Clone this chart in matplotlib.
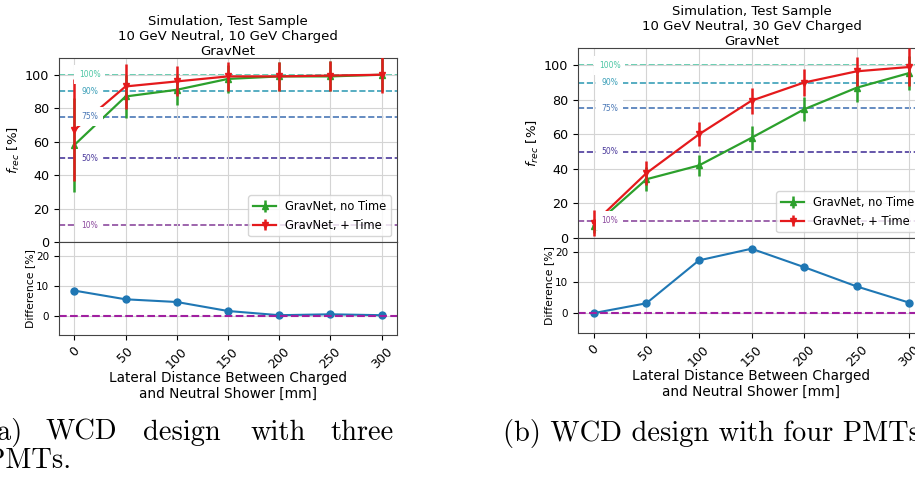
import matplotlib.pyplot as plt

distance = [0, 50, 100, 150, 200, 250, 300]

# (a) three PMTs, 10 GeV neutral / 10 GeV charged
a_notime = [58, 87, 91, 97.5, 99, 99, 100]
a_notime_err = [28, 13, 9, 8.5, 8.5, 9, 10]
a_time = [67, 93, 96, 99, 99, 99.5, 100]
a_time_err = [30.5, 13.5, 9, 8.5, 8.5, 9, 11]
a_diff = [8.3, 5.4, 4.5, 1.5, 0.1, 0.4, 0.1]

# (b) four PMTs, 10 GeV neutral / 30 GeV charged
b_notime = [7, 34, 42, 58, 74.5, 87, 95.5]
b_notime_err = [4, 7, 6, 7, 7, 8, 10]
b_time = [8.5, 37.5, 60, 79.5, 90, 96.5, 99]
b_time_err = [7.5, 7, 7, 7.5, 8, 8.5, 11]
b_diff = [0, 3.2, 17.2, 21, 15, 8.7, 3.4]

levels = [100, 90, 75, 50, 10]
level_labels = ["100%", "90%", "75%", "50%", "10%"]
level_colors = ["#4cc6a4", "#3a9fb8", "#4a78b6", "#4b3a9c", "#8c4a9e"]

W, H = 915, 483


def frac(x0, y0, x1, y1):
    # pixel box -> figure fraction rect
    return [x0 / W, 1 - y1 / H, (x1 - x0) / W, (y1 - y0) / H]


def panel(fig, top_px, bot_px, title, notime, notime_err, withtime, withtime_err, diff):
    ax = fig.add_axes(frac(*top_px))
    axd = fig.add_axes(frac(*bot_px), sharex=ax)

    for lv, lab, col in zip(levels, level_labels, level_colors):
        ax.axhline(lv, color=col, ls="--", lw=1.2, zorder=1.5)
        ax.text(15, lv, lab, color=col, fontsize=5.5, ha="center", va="center", zorder=10,
                bbox=dict(facecolor="white", edgecolor="none", pad=3.5))

    ax.errorbar(distance, notime, yerr=notime_err, color="#2ca02c", marker="^", ms=4.5,
                lw=1.6, elinewidth=1.8, capsize=0, label="GravNet, no Time", zorder=3)
    ax.errorbar(distance, withtime, yerr=withtime_err, color="#e41a1c", marker="v", ms=4.5,
                lw=1.6, elinewidth=1.8, capsize=0, label="GravNet, + Time", zorder=4)

    ax.set_xlim(-15, 315)
    ax.set_ylim(0, 110)
    ax.set_yticks([0, 20, 40, 60, 80, 100])
    ax.set_xticks(distance)
    ax.tick_params(labelbottom=False, labelsize=9.2)
    ax.grid(True, color="#d4d4d4", lw=0.8)
    ax.set_ylabel("$f_{rec}$ [%]", fontsize=9.5, labelpad=2)
    ax.set_title(title, fontsize=9.5, pad=2)
    leg = ax.legend(loc="lower right", fontsize=8.3, framealpha=0.8)
    leg.set_zorder(20)

    axd.plot(distance, diff, "o-", color="#1f77b4", ms=5, lw=1.5)
    axd.axhline(0, color="#a020a0", ls="--", lw=1.5)
    axd.set_ylim(-6.5, 24.5)
    axd.set_yticks([0, 10, 20])
    axd.grid(True, color="#d4d4d4", lw=0.8)
    axd.tick_params(axis="y", labelsize=7.5)
    axd.tick_params(axis="x", labelsize=9, labelrotation=45)
    axd.set_ylabel("Difference [%]", fontsize=7.8, labelpad=1)
    axd.set_xlabel("Lateral Distance Between Charged\nand Neutral Shower [mm]",
                   fontsize=9.8, labelpad=0)

    for a in (ax, axd):
        for s in a.spines.values():
            s.set_color("#444444")


def main():
    fig = plt.figure(figsize=(W / 100, H / 100), dpi=100)

    panel(fig, (59, 58, 397, 242), (59, 242, 397, 335),
          "Simulation, Test Sample\n10 GeV Neutral, 10 GeV Charged\nGravNet",
          a_notime, a_notime_err, a_time, a_time_err, a_diff)
    panel(fig, (578, 48, 925, 238), (578, 238, 925, 333),
          "Simulation, Test Sample\n10 GeV Neutral, 30 GeV Charged\nGravNet",
          b_notime, b_notime_err, b_time, b_time_err, b_diff)

    cap = dict(fontfamily="cmr10", fontsize=20.5, va="baseline")
    words = [("(a)", -14), ("WCD", 45), ("design", 143), ("with", 250), ("three", 330)]
    for w, x in words:
        fig.text(x / W, 1 - 440 / H, w, ha="left", **cap)
    fig.text(-14 / W, 1 - 468 / H, "PMTs.", ha="left", **cap)
    fig.text(503 / W, 1 - 441 / H, "(b) WCD design with four PMTs", ha="left", **cap)

    fig.savefig("out.png", dpi=100)


main()
